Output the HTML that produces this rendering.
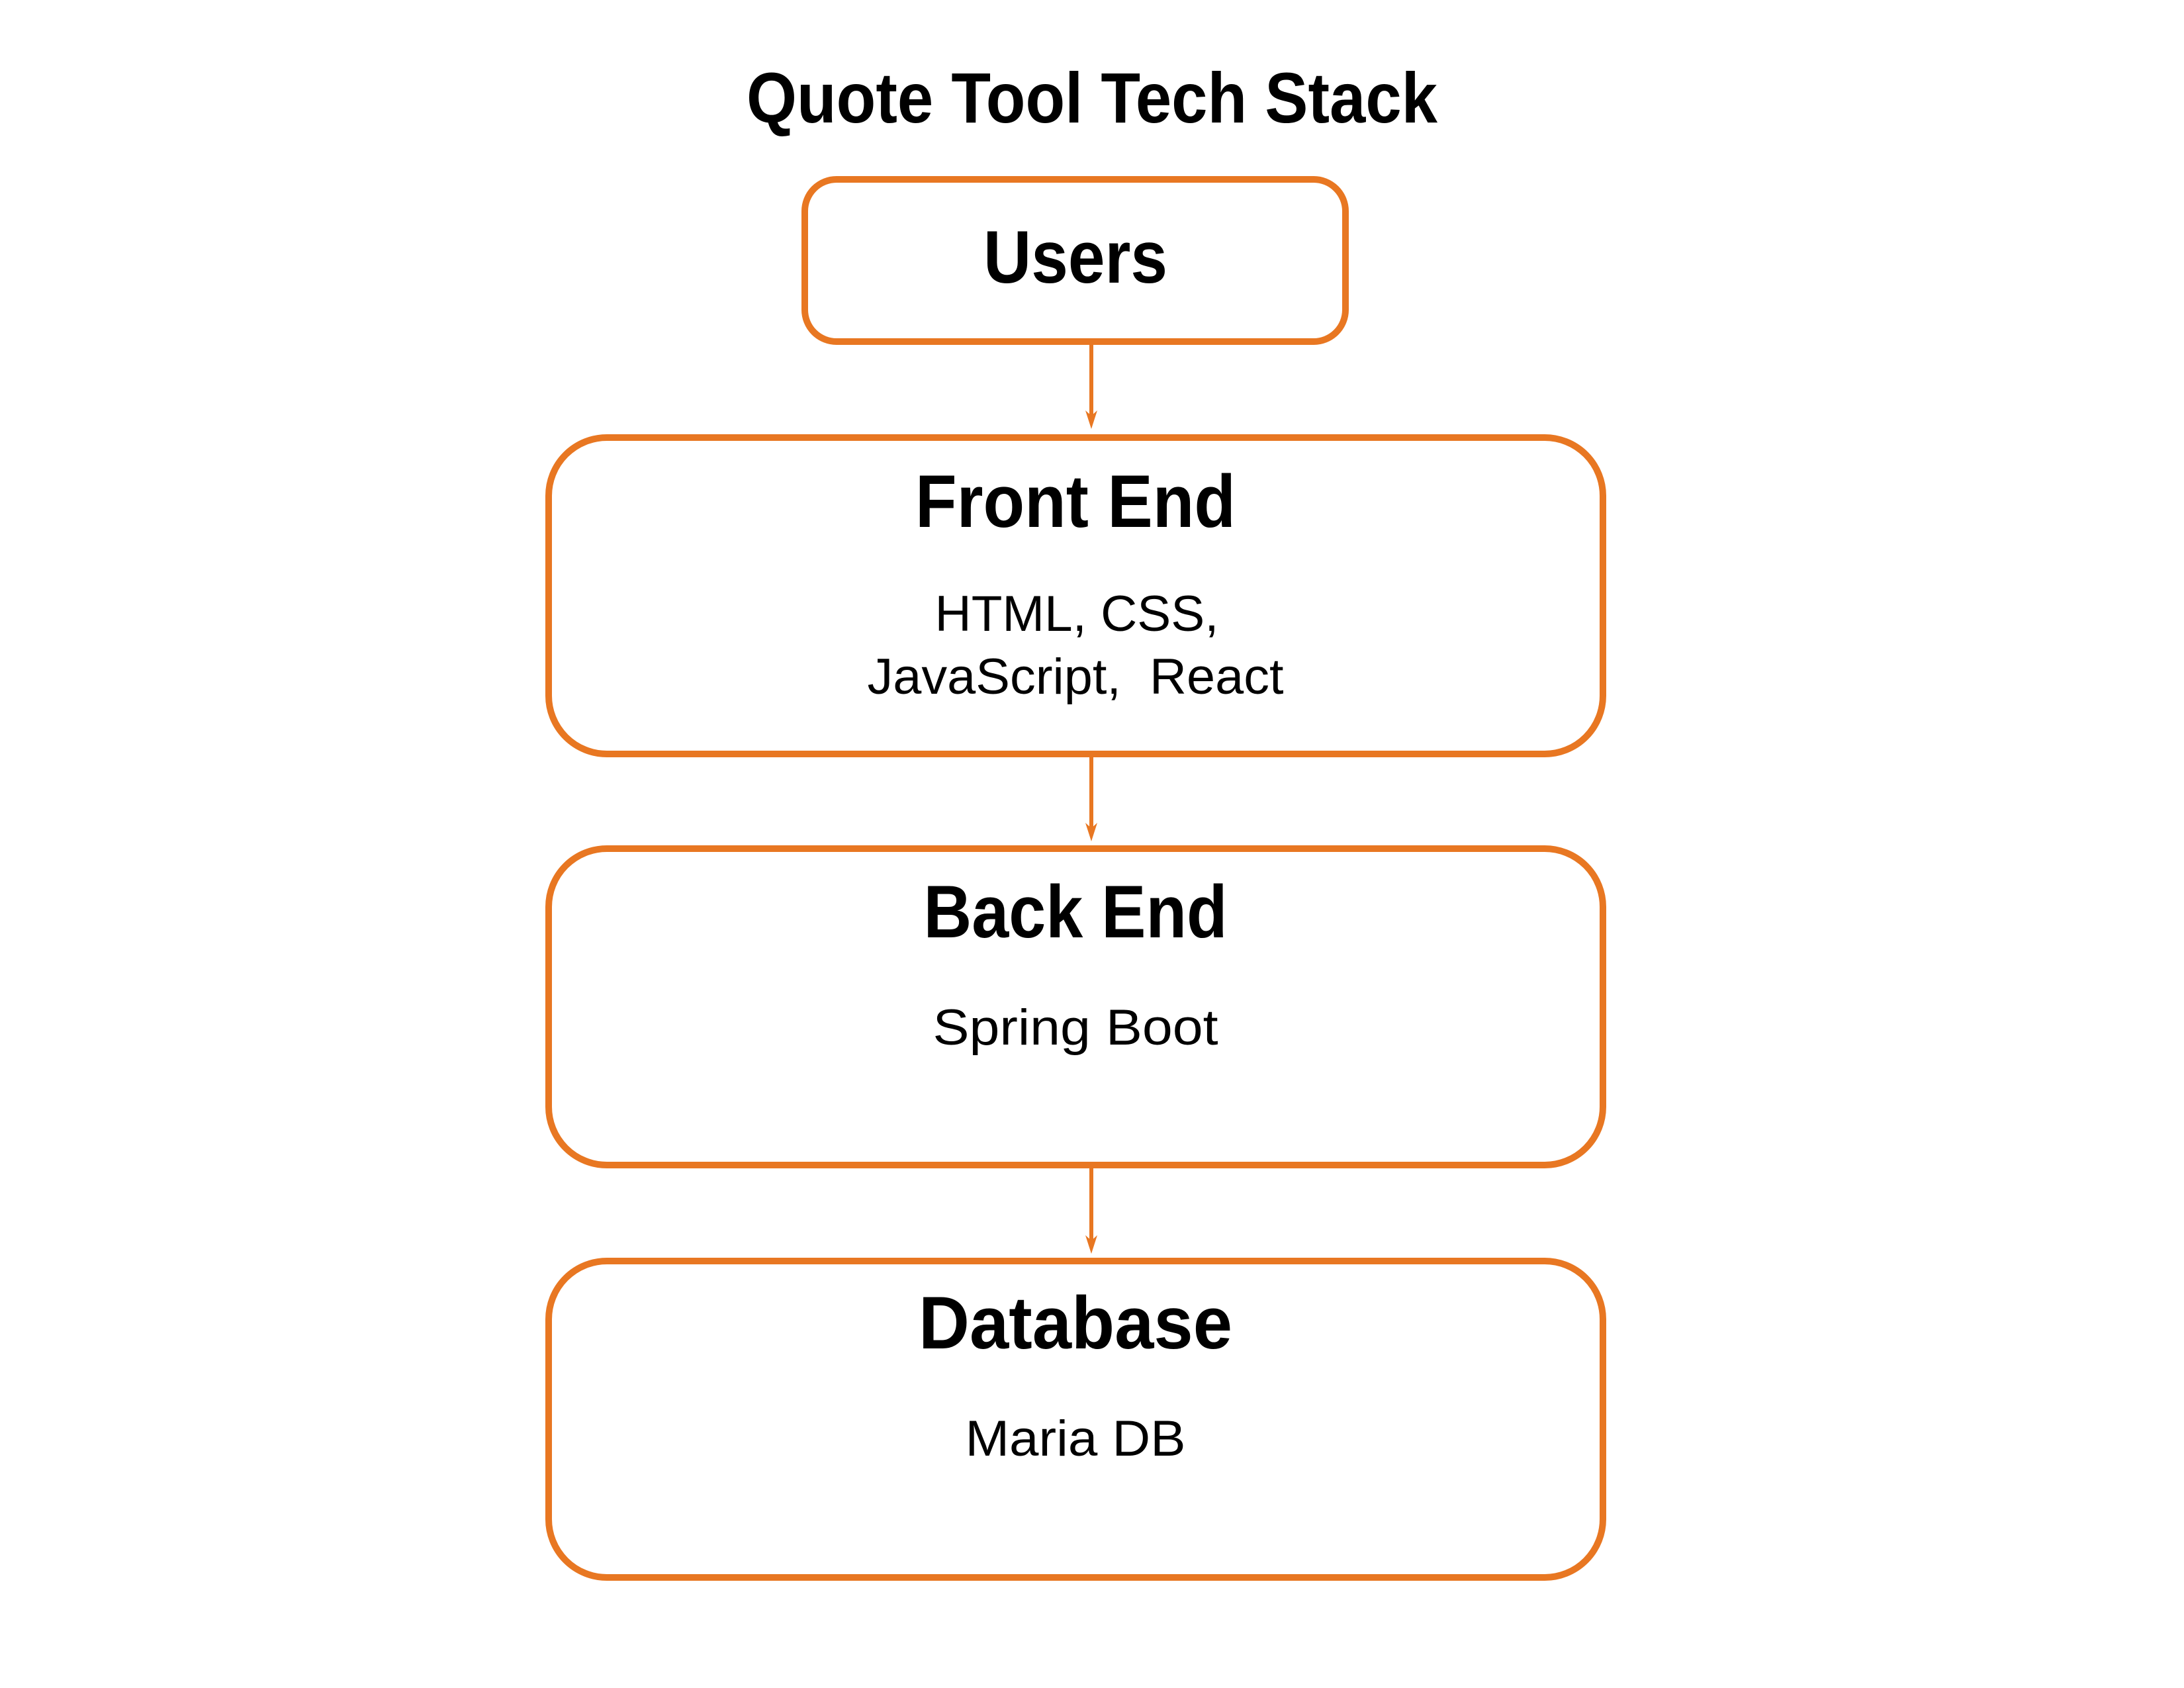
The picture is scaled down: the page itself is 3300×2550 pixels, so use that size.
<!DOCTYPE html>
<html><head><meta charset="utf-8"><style>html,body{margin:0;padding:0;background:#fff}svg{display:block}</style></head>
<body>
<svg width="3300" height="2550" viewBox="0 0 3300 2550" xmlns="http://www.w3.org/2000/svg" font-family="Liberation Sans, sans-serif">
<g fill="none" stroke="#e87722" stroke-width="10">
<rect x="1216" y="271" width="817" height="245" rx="48"/>
<rect x="829" y="661" width="1593" height="478" rx="88"/>
<rect x="829" y="1282" width="1593" height="478" rx="88"/>
<rect x="829" y="1905" width="1593" height="478" rx="88"/>
</g>
<g stroke="#e87722" stroke-width="6">
<line x1="1649" y1="518" x2="1649" y2="630"/>
<line x1="1649" y1="1141" x2="1649" y2="1253"/>
<line x1="1649" y1="1762" x2="1649" y2="1876"/>
</g>
<g fill="#e87722">
<path d="M1640,620 L1649,648 L1658,620 L1649,628 Z"/>
<path d="M1640,1243 L1649,1271 L1658,1243 L1649,1251 Z"/>
<path d="M1640,1866 L1649,1894 L1658,1866 L1649,1874 Z"/>
</g>
<g fill="#000" font-weight="bold" text-anchor="middle">
<text x="1650" y="185" font-size="108" textLength="1044" lengthAdjust="spacingAndGlyphs">Quote Tool Tech Stack</text>
<text x="1625" y="427" font-size="112" textLength="278" lengthAdjust="spacingAndGlyphs">Users</text>
<text x="1625" y="796" font-size="112" textLength="484" lengthAdjust="spacingAndGlyphs">Front End</text>
<text x="1625" y="1416" font-size="112" textLength="459" lengthAdjust="spacingAndGlyphs">Back End</text>
<text x="1625" y="2037" font-size="112" textLength="474" lengthAdjust="spacingAndGlyphs">Database</text>
</g>
<g fill="#000" text-anchor="middle" font-size="76">
<text x="1627" y="953" textLength="429" lengthAdjust="spacingAndGlyphs">HTML, CSS,</text>
<text x="1625" y="1048" textLength="629" lengthAdjust="spacingAndGlyphs" xml:space="preserve">JavaScript,  React</text>
<text x="1625" y="1578" textLength="431" lengthAdjust="spacingAndGlyphs">Spring Boot</text>
<text x="1625" y="2199" textLength="333" lengthAdjust="spacingAndGlyphs">Maria DB</text>
</g>
</svg>
</body></html>
